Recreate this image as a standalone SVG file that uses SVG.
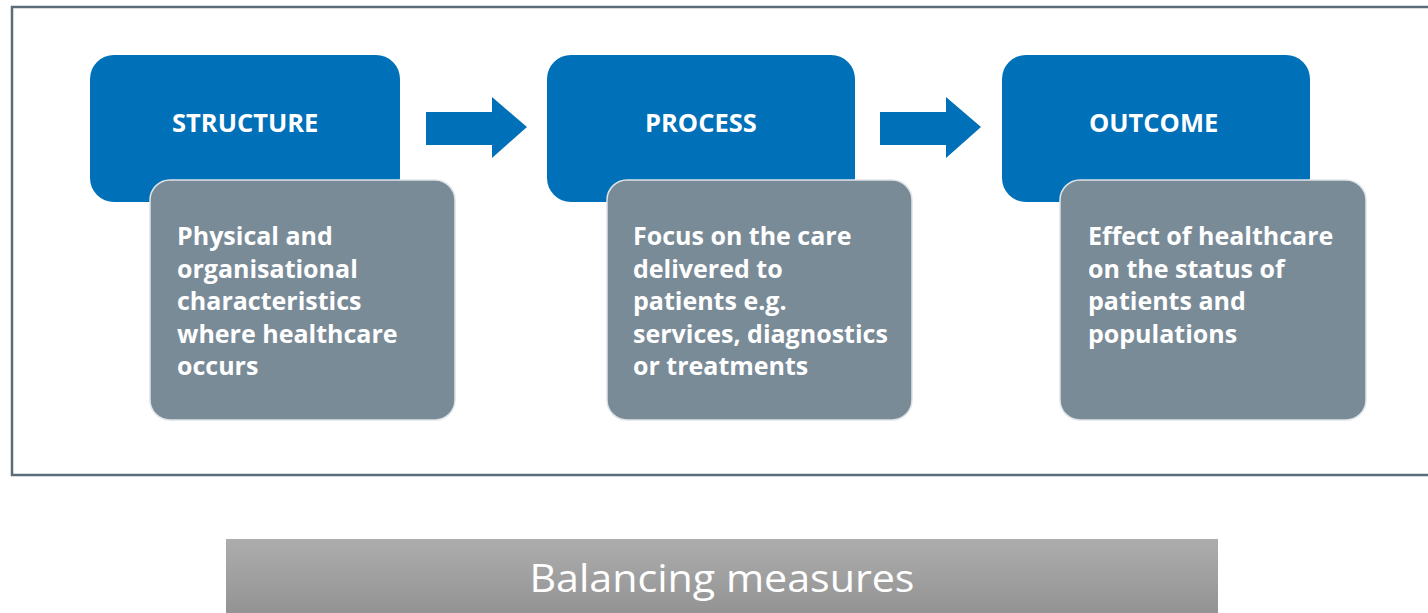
<svg xmlns="http://www.w3.org/2000/svg" width="1428" height="613" viewBox="0 0 1428 613">
  <defs>
    <linearGradient id="barFill" x1="0" y1="0" x2="0" y2="1">
      <stop offset="0" stop-color="#adadad"/>
      <stop offset="1" stop-color="#939393"/>
    </linearGradient>
    <style>
      .head { fill: #0070b8; }
      .desc { fill: #7a8b98; stroke: #dfe4e8; stroke-width: 1.5; }
      .title { font-family: "Open Sans", "Noto Sans", sans-serif; font-weight: 700; font-size: 25.5px; fill: #ffffff; }
      .body { font-family: "Open Sans", "Noto Sans", sans-serif; font-weight: 700; font-size: 25px; fill: #ffffff; }
      .arrow { fill: #0070b8; }
      .frame { fill: #ffffff; stroke: #5b6d79; stroke-width: 2.5; }
      .bar-text { font-family: "Open Sans", "Noto Sans", sans-serif; font-weight: 400; font-size: 38px; fill: #ffffff; }
    </style>
  </defs>

  <rect width="1428" height="613" fill="#ffffff"/>

  <!-- outer frame, open on the right -->
  <rect class="frame" x="12" y="7" width="1440" height="468"/>

  <g id="structure">
    <rect class="head" x="90" y="55" width="310" height="147" rx="24"/>
    <text class="title" x="172" y="132">STRUCTURE</text>
    <rect class="desc" x="150" y="180" width="305" height="240" rx="20"/>
    <text class="body">
      <tspan x="177" y="245">Physical and</tspan>
      <tspan x="177" y="277.5">organisational</tspan>
      <tspan x="177" y="310">characteristics</tspan>
      <tspan x="177" y="342.5">where healthcare</tspan>
      <tspan x="177" y="375">occurs</tspan>
    </text>
  </g>

  <g id="process">
    <rect class="head" x="547" y="55" width="308" height="147" rx="24"/>
    <text class="title" x="645" y="132">PROCESS</text>
    <rect class="desc" x="607" y="180" width="305" height="240" rx="20"/>
    <text class="body">
      <tspan x="633" y="245">Focus on the care</tspan>
      <tspan x="633" y="277.5">delivered to</tspan>
      <tspan x="633" y="310">patients e.g.</tspan>
      <tspan x="633" y="342.5">services, diagnostics</tspan>
      <tspan x="633" y="375">or treatments</tspan>
    </text>
  </g>

  <g id="outcome">
    <rect class="head" x="1002" y="55" width="308" height="147" rx="24"/>
    <text class="title" x="1089" y="132">OUTCOME</text>
    <rect class="desc" x="1060" y="180" width="306" height="240" rx="20"/>
    <text class="body">
      <tspan x="1088" y="245">Effect of healthcare</tspan>
      <tspan x="1088" y="277.5">on the status of</tspan>
      <tspan x="1088" y="310">patients and</tspan>
      <tspan x="1088" y="342.5">populations</tspan>
    </text>
  </g>

  <g id="connectors">
    <polygon class="arrow" points="426,112 492,112 492,97 527,127 492,158 492,145 426,145"/>
    <polygon class="arrow" points="880,112 946,112 946,97 981,127 946,158 946,145 880,145"/>
  </g>

  <g id="balancing">
    <rect x="226" y="539" width="992" height="74" fill="url(#barFill)"/>
    <text class="bar-text" x="722" y="592" text-anchor="middle" textLength="385" lengthAdjust="spacingAndGlyphs">Balancing measures</text>
  </g>
</svg>
